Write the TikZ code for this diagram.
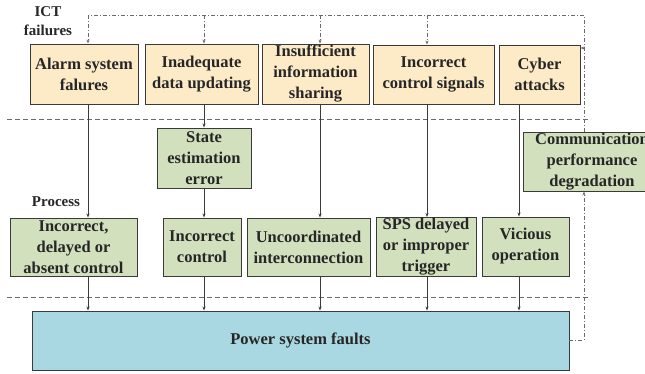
\documentclass[tikz,border=0pt]{standalone}
\usepackage{fontspec}
\setmainfont{Liberation Serif}
\usetikzlibrary{arrows.meta}

\definecolor{ictfill}{HTML}{FDEBC7}
\definecolor{procfill}{HTML}{D3E0BD}
\definecolor{faultfill}{HTML}{A9D8E3}
\definecolor{edgegray}{HTML}{3A3A3A}
\definecolor{linkgray}{HTML}{6A6A6A}

\tikzset{
  box/.style={draw=edgegray, line width=0.9pt, align=center, inner sep=1pt, text=black!85,
    font=\fontsize{16.5}{21}\selectfont\bfseries},
  ictbox/.style={box, fill=ictfill},
  procbox/.style={box, fill=procfill},
  faultbox/.style={box, fill=faultfill},
  tip/.style={-{Stealth[length=4pt,width=3pt]}},
  flow/.style={draw=edgegray, line width=0.7pt, tip},
  feedback/.style={draw=linkgray, line width=0.8pt, dash pattern=on 4pt off 2pt on 1pt off 2pt},
  layer/.style={draw=linkgray, line width=0.8pt, dash pattern=on 5pt off 3pt},
  tag/.style={font=\fontsize{15}{19}\selectfont\bfseries, text=black!85, align=center}
}

\begin{document}
\begin{tikzpicture}[x=1pt,y=1pt]
\useasboundingbox (0,0) rectangle (645,373);

% Layers
\draw[layer] (7,254) -- (591,254);
\draw[layer] (7,76) -- (591,76);

% Labels
\node[tag] (ict) at (48,351.5) {ICT\\failures};
\node[tag] (proc) at (56,171) {Process};

% ICT failures
\node[ictbox,minimum width=108pt,minimum height=60pt] (alarm) at (84,299) {Alarm system\\falures};
\node[ictbox,minimum width=113pt,minimum height=60pt] (inadeq) at (201.5,299) {Inadequate\\data updating};
\node[ictbox,minimum width=107pt,minimum height=60pt] (insuff) at (315.5,299) {Insufficient\\information\\sharing};
\node[ictbox,minimum width=121pt,minimum height=59pt] (signals) at (433.5,298.5) {Incorrect\\control signals};
\node[ictbox,minimum width=81pt,minimum height=59pt] (cyber) at (539.5,298.5) {Cyber\\attacks};

% Process
\node[procbox,minimum width=94pt,minimum height=60pt] (state) at (204,215) {State\\estimation\\error};
\node[procbox,minimum width=138pt,minimum height=59pt] (comm) at (592,211.5) {Communication\\performance\\degradation};
\node[procbox,minimum width=127pt,minimum height=58pt] (incdel) at (73.5,126) {Incorrect,\\delayed or\\absent control};
\node[procbox,minimum width=78pt,minimum height=58pt] (incctrl) at (202,126) {Incorrect\\control};
\node[procbox,minimum width=123pt,minimum height=58pt] (uncoord) at (308.5,126) {Uncoordinated\\interconnection};
\node[procbox,minimum width=100pt,minimum height=58pt] (sps) at (426,126) {SPS delayed\\or improper\\trigger};
\node[procbox,minimum width=87pt,minimum height=59pt] (vicious) at (525.5,126.5) {Vicious\\operation};

% Faults
\node[faultbox,minimum width=537pt,minimum height=59pt] (psf) at (300.5,32.5) {Power system faults};

% Columns
\coordinate (c1) at (88,0);
\coordinate (c2) at (204,0);
\coordinate (c3) at (320,0);
\coordinate (c4) at (427,0);
\coordinate (c5) at (519,0);
\coordinate (fr) at (584,0);
\coordinate (tl) at (88,358);
\coordinate (ct) at (584,325);

% Edges
\draw[flow] (alarm.south -| c1) -- (incdel.north -| c1);
\draw[flow] (inadeq.south -| c2) -- (state.north -| c2);
\draw[flow] (state.south -| c2) -- (incctrl.north -| c2);
\draw[flow] (insuff.south -| c3) -- (uncoord.north -| c3);
\draw[flow] (signals.south -| c4) -- (sps.north -| c4);
\draw[flow] (cyber.south -| c5) -- (vicious.north -| c5);
\foreach \n/\c in {incdel/c1,incctrl/c2,uncoord/c3,sps/c4,vicious/c5}
  \draw[flow] (\n.south -| \c) -- (psf.north -| \c);

% Feedback loop
\draw[feedback,tip] (psf.east) -- (psf.east -| fr) -- (comm.south -| fr);
\draw[feedback] (comm.north -| fr) -- (fr |- tl) -- (tl);
\foreach \n/\c in {alarm/c1,inadeq/c2,insuff/c3,signals/c4}
  \draw[feedback,tip] (tl -| \c) -- (\n.north -| \c);
\draw[feedback,tip] (ct) -- (cyber.east |- ct);
\end{tikzpicture}
\end{document}
